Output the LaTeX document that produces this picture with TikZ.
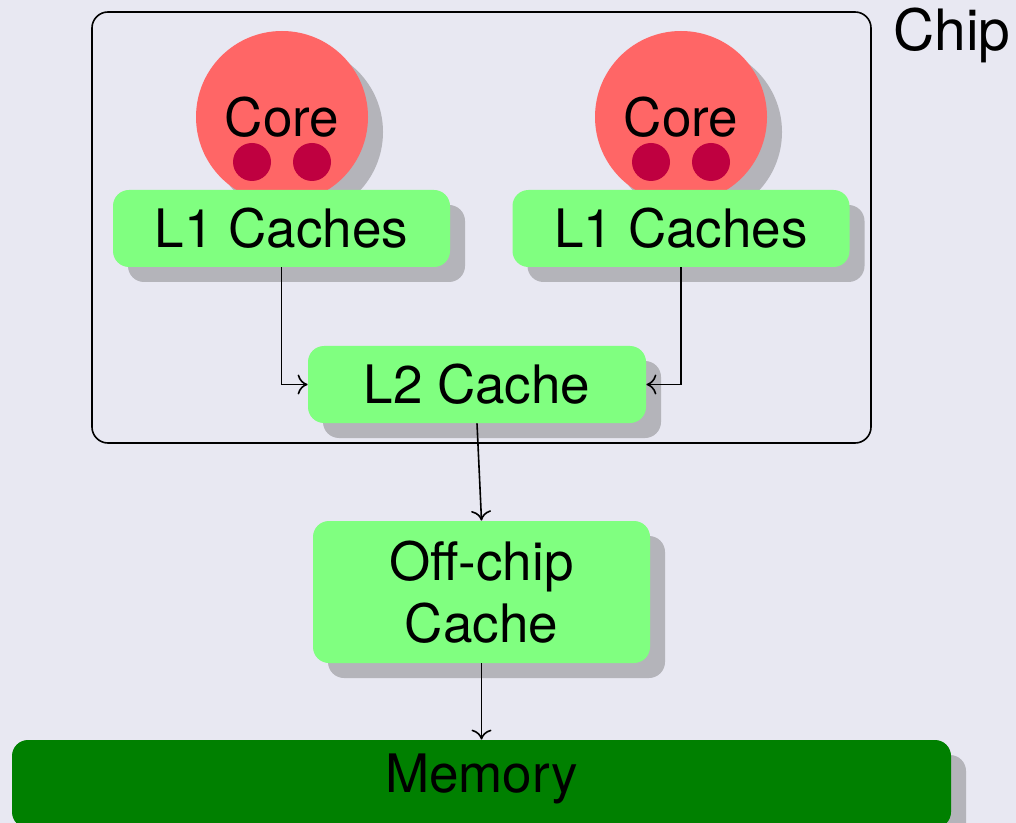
\documentclass[tikz,border=0pt]{standalone}
\usepackage{fontspec}
\setmainfont{TeX Gyre Heros}
\usetikzlibrary{shadows,arrows.meta}
\definecolor{bg}{RGB}{232,232,242}
\definecolor{shade}{RGB}{180,180,186}
\definecolor{corefill}{RGB}{255,102,102}
\definecolor{dotfill}{RGB}{191,0,64}
\definecolor{cachefill}{RGB}{128,255,128}
\definecolor{memfill}{RGB}{0,128,0}
\begin{document}
\begin{tikzpicture}[x=0.5pt,y=-0.5pt,
  font=\fontsize{26.5}{31}\selectfont,
  shadowed/.style={drop shadow={shadow xshift=7.5pt,shadow yshift=-7.5pt,fill=shade,opacity=1}},
  cachebox/.style={shadowed, fill=cachefill, rounded corners=8pt,
    minimum width=168.5pt, minimum height=38.5pt, inner sep=0pt, align=center},
  corenode/.style={shadowed, circle, fill=corefill, minimum size=86pt, inner sep=0pt},
  dotnode/.style={circle, fill=dotfill, minimum size=19pt, inner sep=0pt},
  link/.style={-{To[length=5pt,width=10pt]}, line width=0.8pt},
]
% canvas
\fill[bg] (0,0) rectangle (1016,823);
\useasboundingbox (0,0) rectangle (1016,823);

% chip outline and its label
\node[draw, rounded corners=8pt, line width=0.8pt,
      minimum width=389.5pt, minimum height=215.5pt] (chip) at (481.5,227.5) {};
\node[anchor=west, inner sep=0pt, font=\fontsize{28.5}{33}\selectfont]
      (chiplabel) at (893,35) {Chip};

% cores with their dots
\node[corenode] (core1) at (282,117) {Core};
\node[corenode] (core2) at (681,117) {Core};
\node[dotnode] (d1a) at (252,162) {};
\node[dotnode] (d1b) at (312,162) {};
\node[dotnode] (d2a) at (651,162) {};
\node[dotnode] (d2b) at (711,162) {};

% caches
\node[cachebox] (l1a) at (281.5,228.5) {L1 Caches};
\node[cachebox] (l1b) at (681,228.5) {L1 Caches};
\node[cachebox, minimum width=169pt] (l2) at (477,384.5) {L2 Cache};
\node[cachebox, minimum height=71pt] (offchip) at (481.5,592) {Off-chip\\Cache};

% main memory, running off the lower edge
\node[shadowed, fill=memfill, rounded corners=8pt, minimum width=469.5pt,
      minimum height=44pt, inner sep=0pt] (memory) at (481.5,784) {};
\node[inner sep=0pt] (memlabel) at (481.5,779) {Memory};

% connections
\draw[link] (l1a.south) |- (l2.west);
\draw[link] (l1b.south) |- (l2.east);
\draw[link] (l2.south) -- (offchip.north);
\draw[link] (offchip.south) -- (memory.north);
\end{tikzpicture}
\end{document}
